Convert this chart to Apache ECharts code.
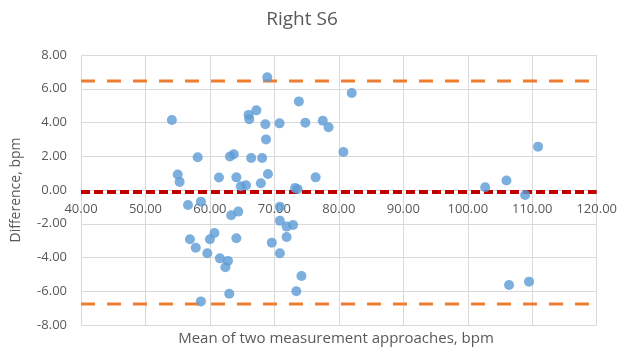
<!DOCTYPE html>
<html>
<head>
<meta charset="utf-8">
<script src="https://cdn.jsdelivr.net/npm/echarts@6/dist/echarts.min.js"></script>
<style>
  html, body { margin: 0; padding: 0; background: #fff; }
  #chart { width: 620px; height: 351px; }
</style>
</head>
<body>
<div id="chart"></div>
<script>
// Bland-Altman plot: mean of two measurement approaches vs. their difference
const chartTitle = 'Right S6';
const xAxisName = 'Mean of two measurement approaches, bpm';
const yAxisName = 'Difference, bpm';

// x: mean (bpm), y: difference (bpm)
const meanValues = [
  54.1, 55.0, 55.3, 58.1, 61.4, 63.1, 63.7, 64.1, 64.8, 65.6,
  66.0, 66.1, 67.2, 66.4, 68.1, 68.6, 68.7, 69.0, 67.9, 68.9,
  70.8, 73.8, 74.8, 77.5, 78.4, 82.0, 80.7, 76.4, 73.2, 73.6,
  102.7, 106.0, 110.9, 108.9,
  56.6, 58.6, 63.3, 64.4, 56.9, 57.8, 60.0, 60.7, 59.6, 64.1,
  61.55, 62.8, 62.4, 63.0, 58.6, 70.85, 70.85, 71.9, 72.9, 71.9,
  69.6, 70.85, 74.2, 73.4, 106.4, 109.5
];
const diffValues = [
  4.15, 0.92, 0.48, 1.94, 0.74, 1.98, 2.12, 0.75, 0.22, 0.28,
  4.45, 4.2, 4.72, 1.9, 1.9, 3.9, 3.0, 0.95, 0.4, 6.68,
  3.95, 5.25, 3.98, 4.1, 3.72, 5.75, 2.25, 0.75, 0.12, 0.05,
  0.16, 0.56, 2.57, -0.3,
  -0.89, -0.69, -1.5, -1.28, -2.92, -3.42, -2.92, -2.55, -3.75, -2.86,
  -4.05, -4.2, -4.58, -6.15, -6.6, -0.99, -1.82, -2.17, -2.07, -2.78,
  -3.12, -3.75, -5.1, -6.0, -5.63, -5.43
];

// Bias and limits of agreement
const meanDiff = -0.12;
const upperLoA = 6.46;
const lowerLoA = -6.76;

// Axis ranges
const xRange = [40, 120];
const yRange = [-8, 8];

const points = meanValues.map((m, i) => [m, diffValues[i]]);
const hLine = v => [[xRange[0], v], [xRange[1], v]];

const FONT = '"Open Sans", sans-serif';
const TEXT = '#595959';
const GRID = '#D9D9D9';

// Plot box
const PLOT = { left: 81, right: 23, top: 55, bottom: 26 };
const plotH = 351 - PLOT.top - PLOT.bottom;
// Lift the horizontal axis from the bottom edge up to difference = 0
const zeroOffset = -plotH * (0 - yRange[0]) / (yRange[1] - yRange[0]);

const chart = echarts.init(document.getElementById('chart'), null, { renderer: 'canvas' });

chart.setOption({
  animation: false,
  backgroundColor: '#ffffff',
  grid: Object.assign({ containLabel: false }, PLOT),
  xAxis: {
    type: 'value',
    min: xRange[0], max: xRange[1], interval: 10,
    offset: zeroOffset,
    axisLine: { show: true, onZero: false, lineStyle: { color: GRID } },
    axisTick: { show: false },
    axisLabel: {
      fontFamily: FONT, fontSize: 13, color: TEXT, margin: 13,
      formatter: v => v.toFixed(2)
    },
    splitLine: { show: true, lineStyle: { color: GRID, width: 1 } }
  },
  yAxis: {
    type: 'value',
    min: yRange[0], max: yRange[1], interval: 2,
    name: yAxisName,
    nameLocation: 'middle',
    nameRotate: 90,
    nameGap: 58,
    nameTextStyle: { fontFamily: FONT, fontSize: 14, color: TEXT },
    axisLine: { show: true, lineStyle: { color: GRID } },
    axisTick: { show: false },
    axisLabel: {
      fontFamily: FONT, fontSize: 13, color: TEXT, margin: 14,
      formatter: v => v.toFixed(2)
    },
    splitLine: { show: true, lineStyle: { color: GRID, width: 1 } }
  },
  graphic: [
    {
      type: 'text',
      x: 302,
      y: 10,
      style: {
        text: chartTitle,
        fontFamily: FONT, fontSize: 19, fill: TEXT,
        align: 'center', verticalAlign: 'top'
      }
    },
    {
      type: 'text',
      x: 336,
      y: 331,
      style: {
        text: xAxisName,
        fontFamily: FONT, fontSize: 15, fill: TEXT,
        align: 'center', verticalAlign: 'top'
      }
    }
  ],
  series: [
    {
      type: 'line', data: hLine(upperLoA), symbol: 'none', silent: true, z: 1,
      lineStyle: { color: '#ED7D31', width: 3, type: [14, 12] }
    },
    {
      type: 'line', data: hLine(lowerLoA), symbol: 'none', silent: true, z: 1,
      lineStyle: { color: '#ED7D31', width: 3, type: [14, 12] }
    },
    {
      type: 'line', data: hLine(meanDiff), symbol: 'none', silent: true, z: 1,
      lineStyle: { color: '#C00000', width: 4, type: [9, 4] }
    },
    {
      type: 'scatter', data: points, symbol: 'circle', symbolSize: 10, z: 3,
      itemStyle: { color: '#5B9BD5' }
    }
  ]
});
</script>
</body>
</html>
